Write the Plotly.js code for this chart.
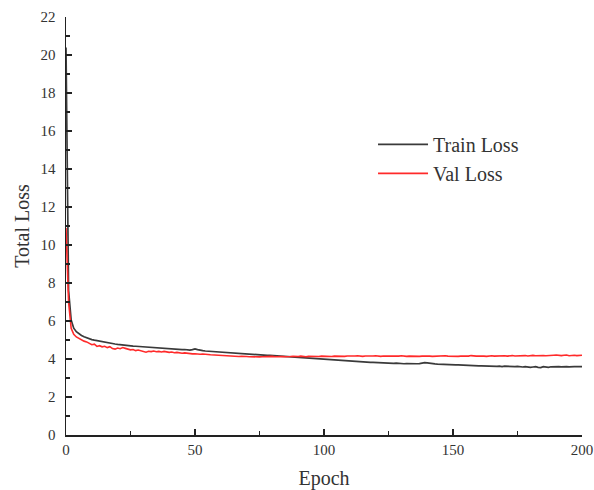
<!DOCTYPE html>
<html>
<head>
<meta charset="utf-8">
<script src="https://cdn.plot.ly/plotly-3.0.1.min.js"></script>
<style>html,body{margin:0;padding:0;background:#fff;}#chart{width:594px;height:490px;}</style>
</head>
<body>
<div id="chart"></div>
<script>
// Epoch index 0..200
const epochs = Array.from({length: 201}, (_, i) => i);

const trainLoss = [
20.4,7.6,6.05,5.62,5.44,5.33,5.24,5.17,5.11,5.06,
5.02,4.99,4.96,4.93,4.9,4.88,4.85,4.83,4.81,4.79,
4.77,4.75,4.74,4.72,4.71,4.70,4.68,4.67,4.66,4.65,
4.63,4.62,4.6,4.6,4.58,4.57,4.57,4.55,4.55,4.54,
4.53,4.53,4.51,4.52,4.5,4.49,4.5,4.48,4.47,4.49,
4.53,4.49,4.45,4.44,4.42,4.41,4.4,4.38,4.36,4.35,
4.35,4.33,4.33,4.31,4.31,4.3,4.31,4.28,4.28,4.26,
4.26,4.25,4.24,4.24,4.22,4.22,4.21,4.2,4.19,4.19,
4.18,4.17,4.16,4.16,4.14,4.14,4.13,4.12,4.1,4.11,
4.09,4.08,4.07,4.06,4.06,4.04,4.03,4.02,4.0,4.0,
3.98,3.96,3.97,3.95,3.94,3.94,3.92,3.91,3.91,3.9,
3.88,3.89,3.87,3.86,3.85,3.85,3.83,3.83,3.82,3.82,
3.81,3.8,3.8,3.79,3.78,3.79,3.77,3.77,3.78,3.76,
3.76,3.75,3.76,3.75,3.74,3.74,3.75,3.76,3.79,3.81,
3.8,3.77,3.75,3.74,3.73,3.72,3.72,3.71,3.71,3.7,
3.7,3.69,3.69,3.68,3.68,3.67,3.67,3.66,3.66,3.65,
3.64,3.64,3.63,3.64,3.62,3.63,3.6,3.61,3.62,3.6,
3.62,3.61,3.63,3.62,3.6,3.61,3.59,3.58,3.6,3.57,
3.56,3.58,3.6,3.56,3.55,3.6,3.58,3.56,3.59,3.6,
3.58,3.6,3.59,3.61,3.6,3.59,3.61,3.6,3.6,3.61,
3.6
];

const valLoss = [
10.9,7.0,5.62,5.3,5.16,5.08,5.0,4.94,4.9,4.82,
4.75,4.78,4.66,4.7,4.64,4.67,4.6,4.65,4.55,4.52,
4.58,4.54,4.6,4.56,4.5,4.48,4.5,4.44,4.47,4.42,
4.4,4.36,4.41,4.39,4.42,4.38,4.4,4.37,4.4,4.36,
4.35,4.37,4.33,4.35,4.31,4.3,4.32,4.29,4.3,4.27,
4.28,4.26,4.25,4.26,4.23,4.24,4.22,4.21,4.21,4.19,
4.2,4.18,4.17,4.18,4.15,4.14,4.15,4.13,4.14,4.12,
4.13,4.12,4.11,4.13,4.12,4.11,4.12,4.13,4.11,4.12,
4.14,4.12,4.13,4.11,4.13,4.12,4.14,4.13,4.14,4.12,
4.13,4.15,4.13,4.12,4.14,4.13,4.15,4.14,4.13,4.15,
4.14,4.16,4.14,4.13,4.15,4.14,4.16,4.15,4.14,4.16,
4.15,4.14,4.16,4.17,4.15,4.14,4.16,4.15,4.14,4.16,
4.17,4.15,4.14,4.16,4.15,4.14,4.15,4.16,4.14,4.15,
4.17,4.15,4.14,4.15,4.14,4.16,4.15,4.14,4.15,4.16,
4.14,4.15,4.14,4.15,4.16,4.14,4.15,4.17,4.15,4.14,
4.16,4.15,4.14,4.15,4.14,4.16,4.15,4.18,4.16,4.15,
4.16,4.17,4.15,4.14,4.16,4.17,4.15,4.16,4.18,4.16,
4.17,4.15,4.17,4.18,4.16,4.17,4.19,4.17,4.18,4.16,
4.18,4.19,4.17,4.18,4.2,4.18,4.17,4.19,4.18,4.2,
4.21,4.19,4.18,4.2,4.21,4.17,4.19,4.2,4.18,4.21,
4.2
];

const seriesNames = ['Train Loss', 'Val Loss'];
const xTitle = 'Epoch';
const yTitle = 'Total Loss';

const FONT = 'Liberation Serif, DejaVu Serif, serif';

const traces = [
  {x: epochs, y: trainLoss, name: seriesNames[0], type: 'scatter', mode: 'lines',
   line: {color: '#3a3a3a', width: 1.7}},
  {x: epochs, y: valLoss, name: seriesNames[1], type: 'scatter', mode: 'lines',
   line: {color: '#ff2a2a', width: 1.6}}
];

const layout = {
  width: 594, height: 490,
  margin: {l: 66, r: 12, t: 17, b: 55},
  paper_bgcolor: '#fff', plot_bgcolor: '#fff',
  font: {family: FONT, color: '#333', size: 15},
  showlegend: true,
  legend: {x: 0.595, y: 0.742, xanchor: 'left', yanchor: 'top',
    font: {family: FONT, size: 20, color: '#333'}, bgcolor: 'rgba(0,0,0,0)',
    itemwidth: 50, tracegroupgap: 0},
  xaxis: {
    range: [0, 200], showgrid: false, zeroline: false,
    showline: true, linecolor: '#222', linewidth: 1.5,
    ticks: 'inside', ticklen: 6, tickwidth: 1.5, tickcolor: '#222',
    tick0: 0, dtick: 50,
    minor: {ticks: 'inside', ticklen: 4, tickwidth: 1.2, tickcolor: '#222', dtick: 25},
    tickfont: {family: FONT, size: 15, color: '#333'},
    title: {text: xTitle, font: {family: FONT, size: 20, color: '#333'}, standoff: 15}
  },
  yaxis: {
    range: [0, 22], showgrid: false, zeroline: false,
    showline: true, linecolor: '#222', linewidth: 1.5,
    ticks: 'inside', ticklen: 6, tickwidth: 1.5, tickcolor: '#222',
    tick0: 0, dtick: 2,
    ticklabelstandoff: 6,
    minor: {ticks: 'inside', ticklen: 4, tickwidth: 1.2, tickcolor: '#222', dtick: 1},
    tickfont: {family: FONT, size: 15, color: '#333'},
    title: {text: yTitle, font: {family: FONT, size: 20, color: '#333'}, standoff: 5}
  }
};

Plotly.newPlot('chart', traces, layout, {displayModeBar: false, staticPlot: true});
</script>
</body>
</html>
